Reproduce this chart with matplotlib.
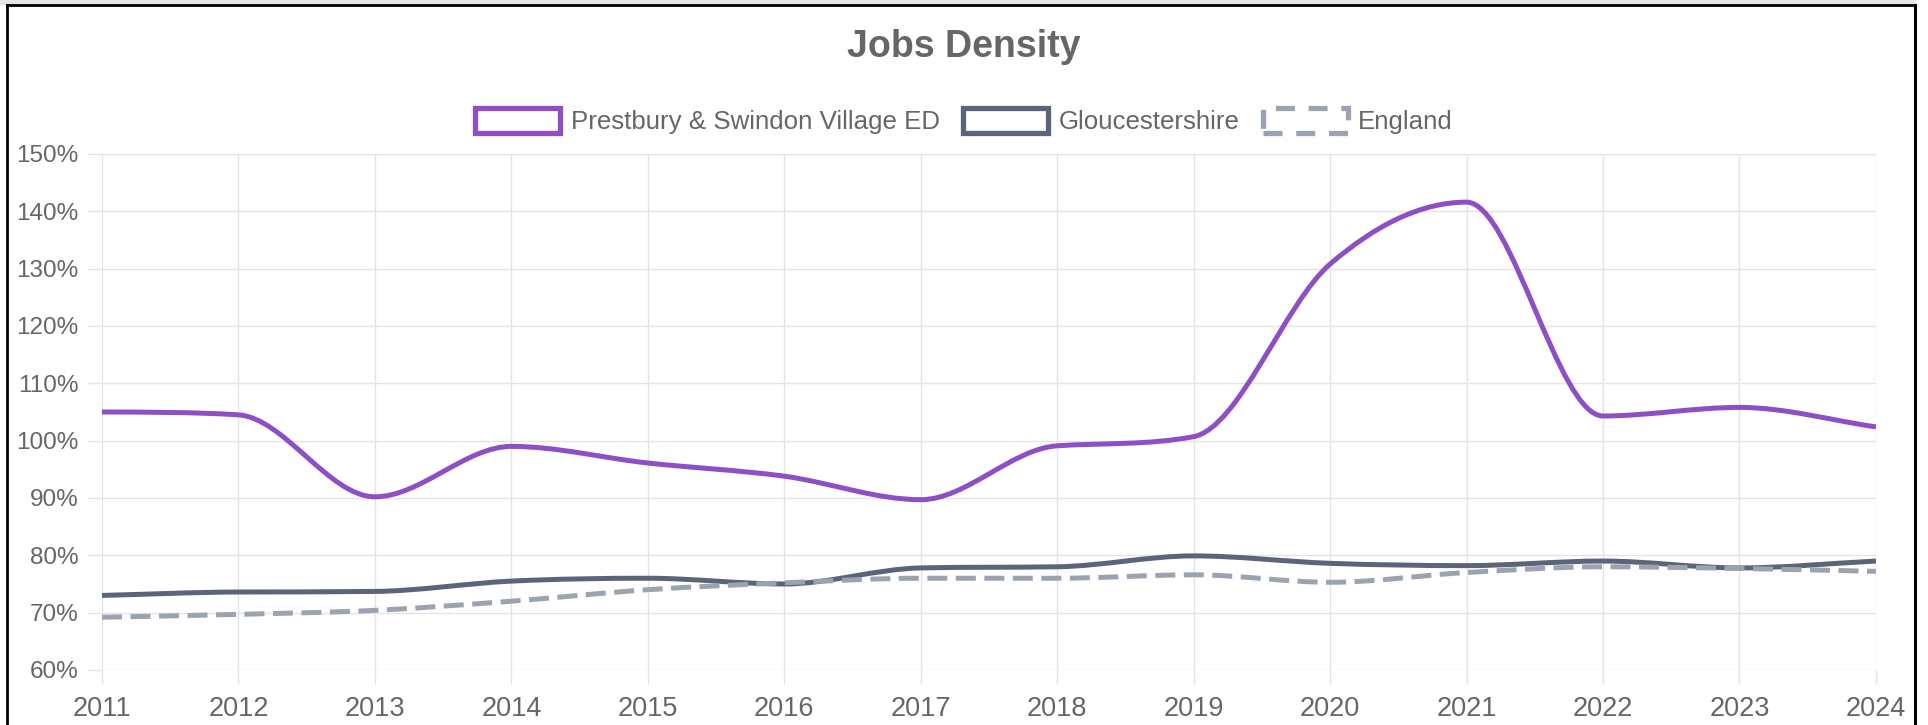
import numpy as np
import matplotlib
matplotlib.use("Agg")
import matplotlib.pyplot as plt
from matplotlib.path import Path
from matplotlib.patches import PathPatch, Patch, Rectangle
from matplotlib.lines import Line2D

# --- data (jobs density, %) ---
years = [2011, 2012, 2013, 2014, 2015, 2016, 2017, 2018, 2019, 2020, 2021, 2022, 2023, 2024]
prestbury = [105.0, 104.5, 90.2, 99.0, 96.1, 93.8, 89.7, 99.1, 100.7, 130.8, 141.6, 104.3, 105.8, 102.4]
glos = [73.0, 73.6, 73.7, 75.5, 76.0, 75.0, 77.8, 78.0, 79.9, 78.6, 78.2, 79.0, 77.8, 79.0]
england = [69.2, 69.7, 70.4, 72.0, 74.0, 75.2, 76.0, 76.0, 76.6, 75.3, 77.0, 78.0, 77.7, 77.2]
labels = ["Prestbury & Swindon Village ED", "Gloucestershire", "England"]
yticks = [60, 70, 80, 90, 100, 110, 120, 130, 140, 150]

purple = "#8e4ec6"
slate = "#5b6478"
grey = "#9ca3b0"
text_col = "#666666"

plt.rcParams['font.family'] = ['Liberation Sans', 'DejaVu Sans']


def monotone_path(x, y):
    # chart.js style monotone cubic, built as bezier segments
    x = np.asarray(x, float)
    y = np.asarray(y, float)
    n = len(x)
    d = np.diff(y) / np.diff(x)
    m = np.zeros(n)
    m[0] = d[0]
    m[-1] = d[-1]
    for i in range(1, n - 1):
        if d[i - 1] == 0 or d[i] == 0 or np.sign(d[i - 1]) != np.sign(d[i]):
            m[i] = 0
        else:
            m[i] = (d[i - 1] + d[i]) / 2
    for i in range(n - 1):
        if d[i] == 0:
            m[i] = m[i + 1] = 0
            continue
        a = m[i] / d[i]
        b = m[i + 1] / d[i]
        s = a * a + b * b
        if s > 9:
            t = 3 / np.sqrt(s)
            m[i] = a * t * d[i]
            m[i + 1] = b * t * d[i]
    verts = [(x[0], y[0])]
    codes = [Path.MOVETO]
    for i in range(n - 1):
        dx = (x[i + 1] - x[i]) / 3
        verts += [(x[i] + dx, y[i] + m[i] * dx),
                  (x[i + 1] - dx, y[i + 1] - m[i + 1] * dx),
                  (x[i + 1], y[i + 1])]
        codes += [Path.CURVE4] * 3
    return Path(verts, codes)


fig = plt.figure(figsize=(19.28, 7.25), dpi=100)
ax = fig.add_axes([0.0529, 0.0759, 0.9201, 0.7117])

series = [(prestbury, purple, '-'), (glos, slate, '-'), (england, grey, (0, (4.0, 1.7)))]
for vals, c, ls in series:
    ax.add_patch(PathPatch(monotone_path(years, vals), fill=False, edgecolor=c,
                           lw=3.6, linestyle=ls, capstyle='butt', joinstyle='round', zorder=3))

ax.set_xlim(2011, 2024)
ax.set_ylim(60, 150)
ax.set_xticks(years)
ax.set_yticks(yticks)
ax.set_yticklabels([f"{v}%" for v in yticks])
ax.grid(True, color="#e4e4e4", lw=1.0)
for s in ax.spines.values():
    s.set_visible(False)
ax.tick_params(axis='y', length=11, width=1, color="#e4e4e4", labelsize=17.5, labelcolor=text_col, pad=6)
ax.tick_params(axis='x', length=10, width=1, color="#e4e4e4", labelsize=19.5, labelcolor=text_col, pad=9)

fig.text(0.5, 1 - 47 / 725, "Jobs Density", ha='center', va='center',
         fontsize=27, fontweight='bold', color=text_col)

handles = [Patch(facecolor='white', edgecolor=purple, lw=3.8),
           Patch(facecolor='white', edgecolor=slate, lw=3.8),
           Patch(facecolor='white', edgecolor=grey, lw=3.8, linestyle=(0, (3.6, 2.6)))]
fig.legend(handles, labels, loc='center', bbox_to_anchor=(0.5, 1 - 121 / 725), ncol=3,
           frameon=False, fontsize=18.6, labelcolor=text_col, handlelength=3.3,
           handleheight=1.1, handletextpad=0.4, columnspacing=0.9, borderpad=0)

# page frame
fig.add_artist(Rectangle((0, 1 - 5 / 725), 1916 / 1928, 5 / 725, transform=fig.transFigure,
                         facecolor="#e6e6e6", edgecolor='none'))
fig.add_artist(Line2D([7 / 1928, 1915 / 1928], [1 - 5 / 725, 1 - 5 / 725], transform=fig.transFigure, color='black', lw=2))
fig.add_artist(Line2D([7 / 1928, 7 / 1928], [0, 1 - 5 / 725], transform=fig.transFigure, color='black', lw=2))
fig.add_artist(Line2D([1915 / 1928, 1915 / 1928], [0, 1 - 5 / 725], transform=fig.transFigure, color='black', lw=2.2))

fig.savefig("out.png", dpi=100)
